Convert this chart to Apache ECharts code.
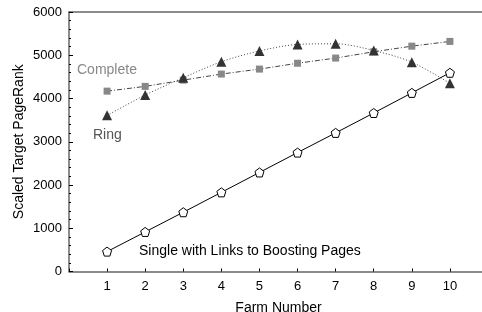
<!DOCTYPE html>
<html>
<head>
<meta charset="utf-8">
<script src="https://cdn.jsdelivr.net/npm/echarts@6/dist/echarts.min.js"></script>
<style>
	html, body { margin: 0; padding: 0; background: #fff; }
	#chart { width: 482px; height: 312px; }
</style>
</head>
<body>
<div id="chart"></div>
<script>
var farms = [1, 2, 3, 4, 5, 6, 7, 8, 9, 10];
var singleVals = [460, 915, 1370, 1830, 2290, 2750, 3205, 3665, 4130, 4595];
var completeVals = [4170, 4280, 4425, 4565, 4680, 4815, 4935, 5080, 5210, 5320];
var ringVals = [3610, 4080, 4480, 4850, 5100, 5250, 5265, 5110, 4840, 4350];
var yTicks = [0, 1000, 2000, 3000, 4000, 5000, 6000];

function pairs(vals) {
	return farms.map(function(f, i) {
		return [f, vals[i]];
	});
}

var pentagon = 'path://M0,-10 L9.51,-3.09 L5.88,8.09 L-5.88,8.09 L-9.51,-3.09 Z';
var font = 'Liberation Sans, Arial, sans-serif';

var chart = echarts.init(document.getElementById('chart'));
chart.setOption({
	animation: false,
	grid: {
		left: 69,
		right: -6,
		top: 12,
		bottom: 40.5,
		outerBoundsMode: 'none',
		containLabel: false
	},
	xAxis: [{
		type: 'value',
		min: 0,
		max: 11,
		interval: 1,
		name: 'Farm Number',
		nameLocation: 'middle',
		nameGap: 30,
		nameTextStyle: { color: '#000', fontSize: 14, fontFamily: font },
		axisLine: { lineStyle: { color: '#666', width: 1.5 } },
		axisTick: { inside: true, length: 3, lineStyle: { color: '#000' } },
		axisLabel: {
			color: '#000', fontSize: 13, fontFamily: font, margin: 8,
			formatter: function(v) {
				return (v >= 1 && v <= 10) ? v : '';
			}
		},
		splitLine: { show: false }
	}, {
		type: 'value',
		position: 'top',
		min: 0,
		max: 11,
		axisLine: { show: true, lineStyle: { color: '#666', width: 1.5 } },
		axisTick: { show: false },
		axisLabel: { show: false },
		splitLine: { show: false }
	}],
	yAxis: {
		type: 'value',
		min: yTicks[0],
		max: yTicks[yTicks.length - 1],
		interval: 1000,
		name: 'Scaled Target PageRank',
		nameLocation: 'middle',
		nameGap: 43,
		nameMoveOverlap: false,
		nameTextStyle: { color: '#000', fontSize: 14, fontFamily: font },
		axisLine: { show: true, lineStyle: { color: '#666', width: 1.5 } },
		axisTick: { inside: true, length: 4, lineStyle: { color: '#000' } },
		minorTick: { show: true, splitNumber: 5, length: 2, lineStyle: { color: '#000' } },
		axisLabel: {
			color: '#000', fontSize: 13, fontFamily: font, margin: 7,
			formatter: function(v) {
				return String(v);
			}
		},
		splitLine: { show: false }
	},
	graphic: [
		{ type: 'text', left: 77, top: 63, style: { text: 'Complete', fill: '#888', font: '14px ' + font } },
		{ type: 'text', left: 93, top: 128, style: { text: 'Ring', fill: '#555', font: '14px ' + font } },
		{ type: 'text', left: 139, top: 244, style: { text: 'Single with Links to Boosting Pages', fill: '#000', font: '14px ' + font } }
	],
	series: [{
		name: 'Complete',
		type: 'line',
		data: pairs(completeVals),
		symbol: 'rect',
		symbolSize: 7,
		itemStyle: { color: '#888' },
		lineStyle: { color: '#444', width: 1, type: [5, 2, 1, 2] },
		z: 3
	}, {
		name: 'Ring',
		type: 'line',
		data: pairs(ringVals),
		smooth: 0.3,
		symbol: 'triangle',
		symbolSize: 10,
		itemStyle: { color: '#333' },
		lineStyle: { color: '#444', width: 1, type: [1, 2] },
		z: 4
	}, {
		name: 'Single',
		type: 'line',
		data: pairs(singleVals),
		symbol: pentagon,
		symbolSize: 9,
		showAllSymbol: true,
		itemStyle: { color: '#fff', borderColor: '#000', borderWidth: 1 },
		lineStyle: { color: '#000', width: 1 },
		z: 5
	}]
});
</script>
</body>
</html>
